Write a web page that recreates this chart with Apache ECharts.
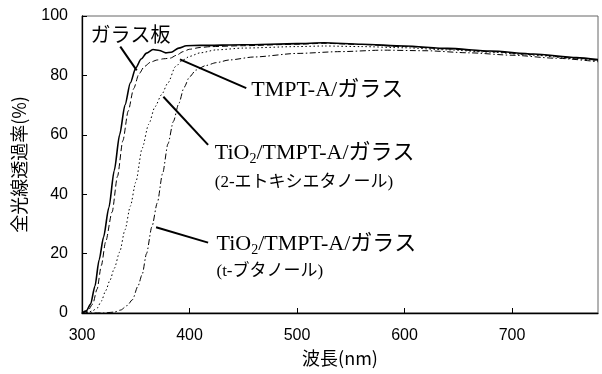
<!DOCTYPE html>
<html><head><meta charset="utf-8">
<script src="https://cdn.jsdelivr.net/npm/echarts@6/dist/echarts.min.js"></script>
<style>html,body{margin:0;padding:0;background:#fff}#c{width:602px;height:374px}</style>
</head><body><div id="c"></div>
<script>
// ---- data (wavelength nm, transmittance %) ----
const xTicks = [300, 400, 500, 600, 700];
const glassX = [300,304,308,312,316,320,325,330,335,340,345,350,355,360,366,372,378,383,390,397,410,450,500,525,560,600,640,680,720,760,780];
const glassY = [0,0.7,3,9,18,25.5,35.5,48,60,70,77.5,82.5,85.5,87.5,88.7,88.4,87.6,87.8,89.2,90,90.1,90.3,90.7,91,90.5,89.9,89.1,88.2,87.2,86,85.3];
const tmptX = [300,305,310,314,318,322,328,333,338,343,348,353,358,364,370,376,382,388,394,400,410,420,450,500,525,560,600,640,680,720,760,780];
const tmptY = [0,0.5,3,8,16,24,34,46,58,68,75.5,80.5,83,84.5,85.2,85.6,85.8,86.8,88,88.8,89.4,89.7,90,90.5,90.8,90.4,89.7,88.9,88,87,85.8,85];
const etoxX = [300,306,310,314,318,322,326,330,335,340,345,350,356,362,368,374,380,387,394,400,410,425,450,500,525,560,600,640,680,720,760,780];
const etoxY = [0,0.2,0.8,1.6,4,7.5,11,15,20.5,28,36,44,55.5,63.5,69.5,73.5,77.5,83,85.2,86.4,87.6,88.6,89.2,89.7,89.9,89.7,89.3,88.6,87.8,86.8,85.6,85];
const tbuX = [300,320,330,336,342,347,352,356,360,365,370,375,380,385,390,395,400,406,415,425,437,460,500,540,580,620,660,700,740,780];
const tbuY = [0,0,0.3,1,2.5,4.5,9,13,20,29,37,47,57,64.5,70.5,76,79.5,81.8,83.3,84.3,85.2,86.2,87.4,88,88.5,88.3,87.6,86.8,85.8,84.6];

const seriesNames = ['ガラス板', 'TMPT-A/ガラス', 'TiO2/TMPT-A/ガラス (2-エトキシエタノール)', 'TiO2/TMPT-A/ガラス (t-ブタノール)'];
const xName = '波長(nm)';
const yName = '全光線透過率(%)';

function pairs(xs, ys){ return xs.map((x,i)=>[x, ys[i]]); }

const serif = '"Liberation Serif","Times New Roman","Noto Sans CJK JP",serif';
const sans = '"Liberation Sans",Arial,"Noto Sans CJK JP",sans-serif';
const cjk = '"Noto Sans CJK JP","Liberation Sans",sans-serif';

const chart = echarts.init(document.getElementById('c'), null, {renderer:'canvas'});

function mkSeries(name, d, type, width){
  return {name, type:'line', data:d, showSymbol:false, smooth:0.25, smoothMonotone:'x', animation:false,
    lineStyle:{color:'#000', width:width, type:type}, z: 3};
}

chart.setOption({
  animation:false,
  backgroundColor:'#fff',
  grid:{left:82, right:4, top:16, bottom:61, show:true, borderColor:'#666', borderWidth:1},
  xAxis:{type:'value', min:300, max:780, interval:100,
    name:xName, nameLocation:'middle', nameGap:34,
    nameTextStyle:{fontFamily:cjk, fontSize:18, color:'#000'},
    axisLine:{lineStyle:{color:'#000', width:1.3}},
    axisTick:{inside:true, length:5, lineStyle:{color:'#000'}},
    axisLabel:{fontFamily:sans, fontSize:16, color:'#000', margin:15, showMaxLabel:false},
    splitLine:{show:false}},
  yAxis:{type:'value', min:0, max:100, interval:20,
    name:yName, nameLocation:'middle', nameGap:54, nameRotate:90,
    nameTextStyle:{fontFamily:cjk, fontSize:18, color:'#000'},
    axisLine:{show:true, lineStyle:{color:'#000', width:1.3}},
    axisTick:{show:true, inside:true, length:5, lineStyle:{color:'#000'}},
    axisLabel:{fontFamily:sans, fontSize:16, color:'#000', margin:14},
    splitLine:{show:false}},
  series:[
    mkSeries(seriesNames[0], pairs(glassX, glassY), 'solid', 1.6),
    mkSeries(seriesNames[1], pairs(tmptX, tmptY), [6,3], 1),
    mkSeries(seriesNames[2], pairs(etoxX, etoxY), [1.5,2.5], 1),
    mkSeries(seriesNames[3], pairs(tbuX, tbuY), [6,2.5,1.5,2.5], 1)
  ]
});

// ---- annotations, anchored in data coordinates ----
const labelAnchors = [
  {text:'ガラス板', at:[307.9, 93.0], size:20},
  {text:'TMPT-A/ガラス', at:[457.4, 75.1], size:22},
  {rich:true, at:[423.5, 53.7], size:22},
  {text:'(2-エトキシエタノール)', at:[423.5, 43.9], size:17},
  {rich:true, at:[425.1, 23.2], size:22},
  {text:'(t-ブタノール)', at:[425.1, 14.0], size:17}
];
const leaders = [
  [[335.6, 89.7],[350.9, 81.7]],
  [[391.1, 85.4],[452.8, 75.7]],
  [[375.7, 72.8],[417.3, 56.6]],
  [[368.9, 28.9],[417.3, 23.7]]
];
const px = p => chart.convertToPixel({gridIndex:0}, p);
const graphics = [];
leaders.forEach(l=>{
  const a = px(l[0]), b = px(l[1]);
  graphics.push({type:'line', shape:{x1:a[0],y1:a[1],x2:b[0],y2:b[1]}, style:{stroke:'#000', lineWidth:2}, z:10});
});
labelAnchors.forEach(t=>{
  const p = px(t.at);
  if (t.rich){
    graphics.push({type:'text', x:p[0], y:p[1], z:10, style:{
      text:'{a|TiO}{s|2}{a|/TMPT-A/ガラス}', verticalAlign:'middle', align:'left',
      rich:{a:{fontFamily:serif, fontSize:t.size, lineHeight:26, fill:'#000'},
            s:{fontFamily:serif, fontSize:14, lineHeight:12, verticalAlign:'bottom', fill:'#000'}}}});
  } else {
    graphics.push({type:'text', x:p[0], y:p[1], z:10, style:{text:t.text, fontFamily:serif, fontSize:t.size, fill:'#000', verticalAlign:'middle', align:'left'}});
  }
});
chart.setOption({graphic:graphics});
</script></body></html>
